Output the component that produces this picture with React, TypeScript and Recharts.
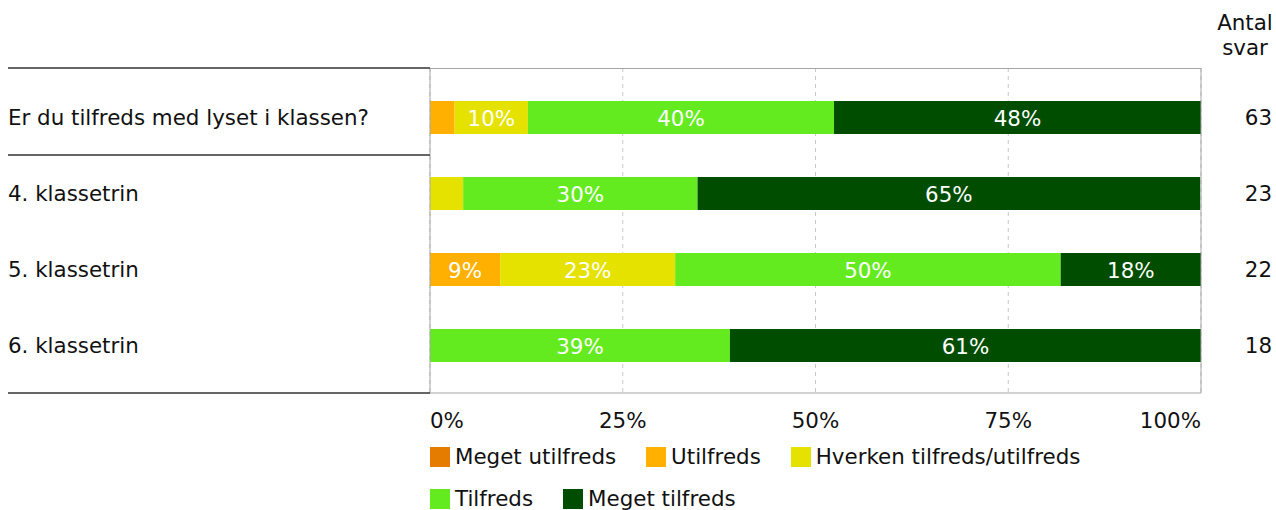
import React from 'react';
import { BarChart, Bar, XAxis, YAxis, CartesianGrid, LabelList } from 'recharts';

// categories (rows) and number of answers per row
const rows = ['Er du tilfreds med lyset i klassen?', '4. klassetrin', '5. klassetrin', '6. klassetrin'];
const antalSvar = [63, 23, 22, 18];

// share of answers, in %
const megetUtilfreds = [0, 0, 0, 0];
const utilfreds = [3.2, 0, 9.1, 0];
const hverken = [9.5, 4.3, 22.7, 0];
const tilfreds = [39.7, 30.4, 50.0, 38.9];
const megetTilfreds = [47.6, 65.2, 18.2, 61.1];

const xTicks = [0, 25, 50, 75, 100];

const series = [
    { key: 'megetUtilfreds', name: 'Meget utilfreds', color: '#e57c00', values: megetUtilfreds },
    { key: 'utilfreds', name: 'Utilfreds', color: '#ffb000', values: utilfreds },
    { key: 'hverken', name: 'Hverken tilfreds/utilfreds', color: '#e6e200', values: hverken },
    { key: 'tilfreds', name: 'Tilfreds', color: '#64eb1f', values: tilfreds },
    { key: 'megetTilfreds', name: 'Meget tilfreds', color: '#004d00', values: megetTilfreds },
];

const data = rows.map((name, i) => {
    const row: Record<string, string | number> = { name, antal: antalSvar[i] };
    series.forEach((s) => {
        row[s.key] = s.values[i];
    });
    return row;
});

const FONT = '"DejaVu Sans", Verdana, sans-serif';
const FS = 21.4;
const HALF_ROW = 38;

const LeftTick = (props: any) => {
    const { y, payload, index } = props;
    const last = index === rows.length - 1;
    return (
        <g>
            <text x={8} y={y} dy="0.38em" textAnchor="start" fill="#111" fontSize={FS} fontFamily={FONT}>
                {payload.value}
            </text>
            {index === 0 && <line x1={8} x2={430} y1={y - HALF_ROW - 11} y2={y - HALF_ROW - 11} stroke="#333" strokeWidth={1.5} />}
            {(index === 0 || last) && (
                <line x1={8} x2={430} y1={y + HALF_ROW + (last ? 10 : 0)} y2={y + HALF_ROW + (last ? 10 : 0)} stroke="#333" strokeWidth={1.5} />
            )}
        </g>
    );
};

const RightTick = (props: any) => {
    const { y, index } = props;
    return (
        <text x={1272} y={y} dy="0.38em" textAnchor="end" fill="#111" fontSize={FS} fontFamily={FONT}>
            {antalSvar[index]}
        </text>
    );
};

const XTick = (props: any) => {
    const { x, y, payload } = props;
    const v = payload.value;
    const anchor = v === 0 ? 'start' : v === 100 ? 'end' : 'middle';
    return (
        <text x={x} y={y + 25} dy="0.38em" textAnchor={anchor} fill="#111" fontSize={FS} fontFamily={FONT}>
            {v}%
        </text>
    );
};

const BarLabel = (props: any) => {
    const { x, y, width, height, value } = props;
    if (value == null || value < 5) return null;
    return (
        <text x={x + width / 2} y={y + height / 2} dy="0.38em" textAnchor="middle" fill="#fff" fontSize={FS} fontFamily={FONT}>
            {Math.round(value)}%
        </text>
    );
};

const AntalHeader = (props: any) => {
    const { viewBox } = props;
    const cx = viewBox.x + 44;
    return (
        <text x={cx} textAnchor="middle" fill="#111" fontSize={FS} fontFamily={FONT}>
            <tspan x={cx} y={viewBox.y - 38}>Antal</tspan>
            <tspan x={cx} y={viewBox.y - 13}>svar</tspan>
        </text>
    );
};

export default function App() {
    return (
        <div style={{ position: 'absolute', left: 0, top: 0, width: 1276, height: 510, fontFamily: FONT, background: '#fff' }}>
            <BarChart
                width={1276}
                height={510}
                data={data}
                layout="vertical"
                margin={{ top: 68, right: 0, bottom: 87, left: 8 }}
                barSize={33}
            >
                <CartesianGrid vertical horizontal={false} strokeDasharray="4 4" stroke="#c8c8c8" />
                <CartesianGrid
                    vertical={false}
                    horizontal
                    stroke="#a6a6a6"
                    horizontalCoordinatesGenerator={({ offset }: any) => [offset.top + 0.5]}
                />
                <XAxis
                    type="number"
                    domain={[0, 100]}
                    ticks={xTicks}
                    height={30}
                    tickLine={false}
                    tickSize={0}
                    axisLine={{ stroke: '#a6a6a6' }}
                    tick={<XTick />}
                    interval={0}
                />
                <YAxis
                    type="category"
                    dataKey="name"
                    width={422}
                    padding={{ top: 11, bottom: 10 }}
                    tickLine={false}
                    axisLine={{ stroke: '#a6a6a6' }}
                    tick={<LeftTick />}
                    interval={0}
                />
                <YAxis
                    yAxisId="right"
                    type="category"
                    dataKey="name"
                    orientation="right"
                    width={75}
                    padding={{ top: 11, bottom: 10 }}
                    tickLine={false}
                    axisLine={{ stroke: '#a6a6a6' }}
                    tick={<RightTick />}
                    interval={0}
                    label={{ content: <AntalHeader /> }}
                />
                {series.map((s) => (
                    <Bar key={s.key} dataKey={s.key} name={s.name} stackId="a" fill={s.color} isAnimationActive={false}>
                        <LabelList dataKey={s.key} content={<BarLabel />} />
                    </Bar>
                ))}
            </BarChart>
            <div
                style={{
                    position: 'absolute',
                    left: 430,
                    top: 446,
                    width: 700,
                    display: 'flex',
                    flexWrap: 'wrap',
                    columnGap: 30,
                    rowGap: 20,
                    fontSize: FS,
                    color: '#111',
                    lineHeight: '22px',
                }}
            >
                {series.map((s) => (
                    <div key={s.key} style={{ display: 'flex', alignItems: 'center', whiteSpace: 'nowrap' }}>
                        <span style={{ display: 'inline-block', width: 20, height: 20, background: s.color, marginRight: 5 }} />
                        {s.name}
                    </div>
                ))}
            </div>
        </div>
    );
}
